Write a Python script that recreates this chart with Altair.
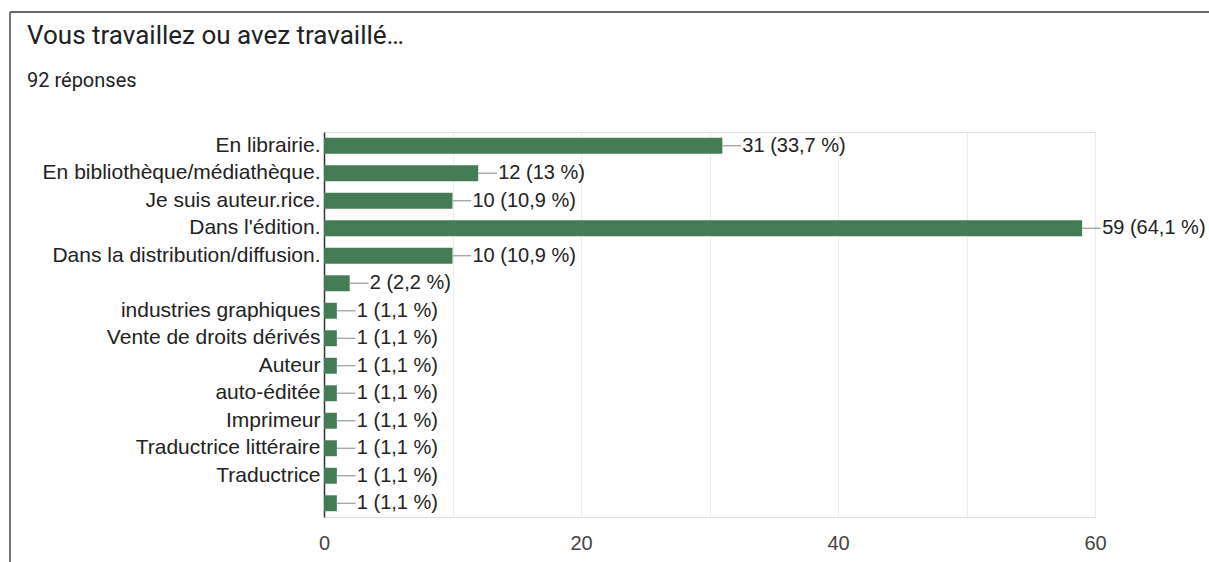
import altair as alt
import pandas as pd

categories = ["En librairie.", "En bibliothèque/médiathèque.", "Je suis auteur.rice.",
              "Dans l'édition.", "Dans la distribution/diffusion.", " ",
              "industries graphiques", "Vente de droits dérivés", "Auteur", "auto-éditée",
              "Imprimeur", "Traductrice littéraire", "Traductrice", "  "]
counts = [31, 12, 10, 59, 10, 2, 1, 1, 1, 1, 1, 1, 1, 1]
percents = ["33,7", "13", "10,9", "64,1", "10,9", "2,2", "1,1", "1,1", "1,1", "1,1",
            "1,1", "1,1", "1,1", "1,1"]
x_ticks = [0, 20, 40, 60]
title_text = "Vous travaillez ou avez travaillé…"
subtitle_text = "92 réponses"

df = pd.DataFrame({
    "cat": categories,
    "count": counts,
    "label": [f"{c} ({p} %)" for c, p in zip(counts, percents)],
})

W, H = 771, 385
PL, PT = 324, 132

xscale = alt.Scale(domain=[0, 60], nice=False, zero=True)
yscale = alt.Scale(domain=categories, paddingInner=0.42, paddingOuter=0.21)

base = alt.Chart(df)

bars = base.mark_bar(color="#437c55").encode(
    x=alt.X("count:Q", scale=xscale,
            axis=alt.Axis(values=[0, 10, 20, 30, 40, 50, 60], title=None,
                          labelExpr="datum.value % 20 == 0 ? datum.label : ''",
                          grid=True, gridColor="#ececec", ticks=False, domain=False,
                          labelFontSize=20, labelColor="#444", labelPadding=16,
                          labelFlush=False, labelOverlap=False,
                          labelFont="Liberation Sans")),
    y=alt.Y("cat:N", scale=yscale, sort=None,
            axis=alt.Axis(title=None, ticks=False, domain=True, domainColor="#333",
                          domainWidth=1.5, labelFontSize=21, labelColor="#222",
                          labelPadding=4, labelFont="Liberation Sans", labelLimit=400)),
)

leaders = base.transform_calculate(end="datum.count + 1.45").mark_rule(
    color="#999", strokeWidth=1.2).encode(
    x=alt.X("count:Q", scale=xscale),
    x2="end:Q",
    y=alt.Y("cat:N", scale=yscale, sort=None, bandPosition=0.5),
)

labels = base.mark_text(align="left", baseline="middle", dx=20, fontSize=20,
                        color="#222", font="Liberation Sans").encode(
    x=alt.X("count:Q", scale=xscale),
    y=alt.Y("cat:N", scale=yscale, sort=None),
    text="label:N",
)

one = alt.Data(values=[{}])

top_border = alt.Chart(one).mark_rule(color="#333", strokeWidth=1.5).encode(
    x=alt.value(10 - PL), x2=alt.value(1209 - PL), y=alt.value(12 - PT))
left_border = alt.Chart(one).mark_rule(color="#777", strokeWidth=2).encode(
    x=alt.value(10 - PL), y=alt.value(12 - PT), y2=alt.value(562 - PT))

title = alt.Chart(one).mark_text(align="left", baseline="alphabetic", fontSize=26,
                                 color="#202124", font="Roboto").encode(
    x=alt.value(27 - PL), y=alt.value(44 - PT), text=alt.value(title_text))
subtitle = alt.Chart(one).mark_text(align="left", baseline="alphabetic", fontSize=20,
                                    color="#202124", font="Roboto").encode(
    x=alt.value(27 - PL), y=alt.value(87 - PT), text=alt.value(subtitle_text))

chart = alt.layer(bars, leaders, labels, top_border, left_border, title, subtitle).properties(
    width=W, height=H,
    autosize=alt.AutoSizeParams(type="none"),
    padding={"left": PL, "top": PT, "right": 1209 - PL - W, "bottom": 562 - PT - H},
).configure_view(stroke="#e4e4e4", strokeWidth=1.5).configure(background="white")

chart.save("out.html", embed_options={"renderer": "svg", "actions": False})
